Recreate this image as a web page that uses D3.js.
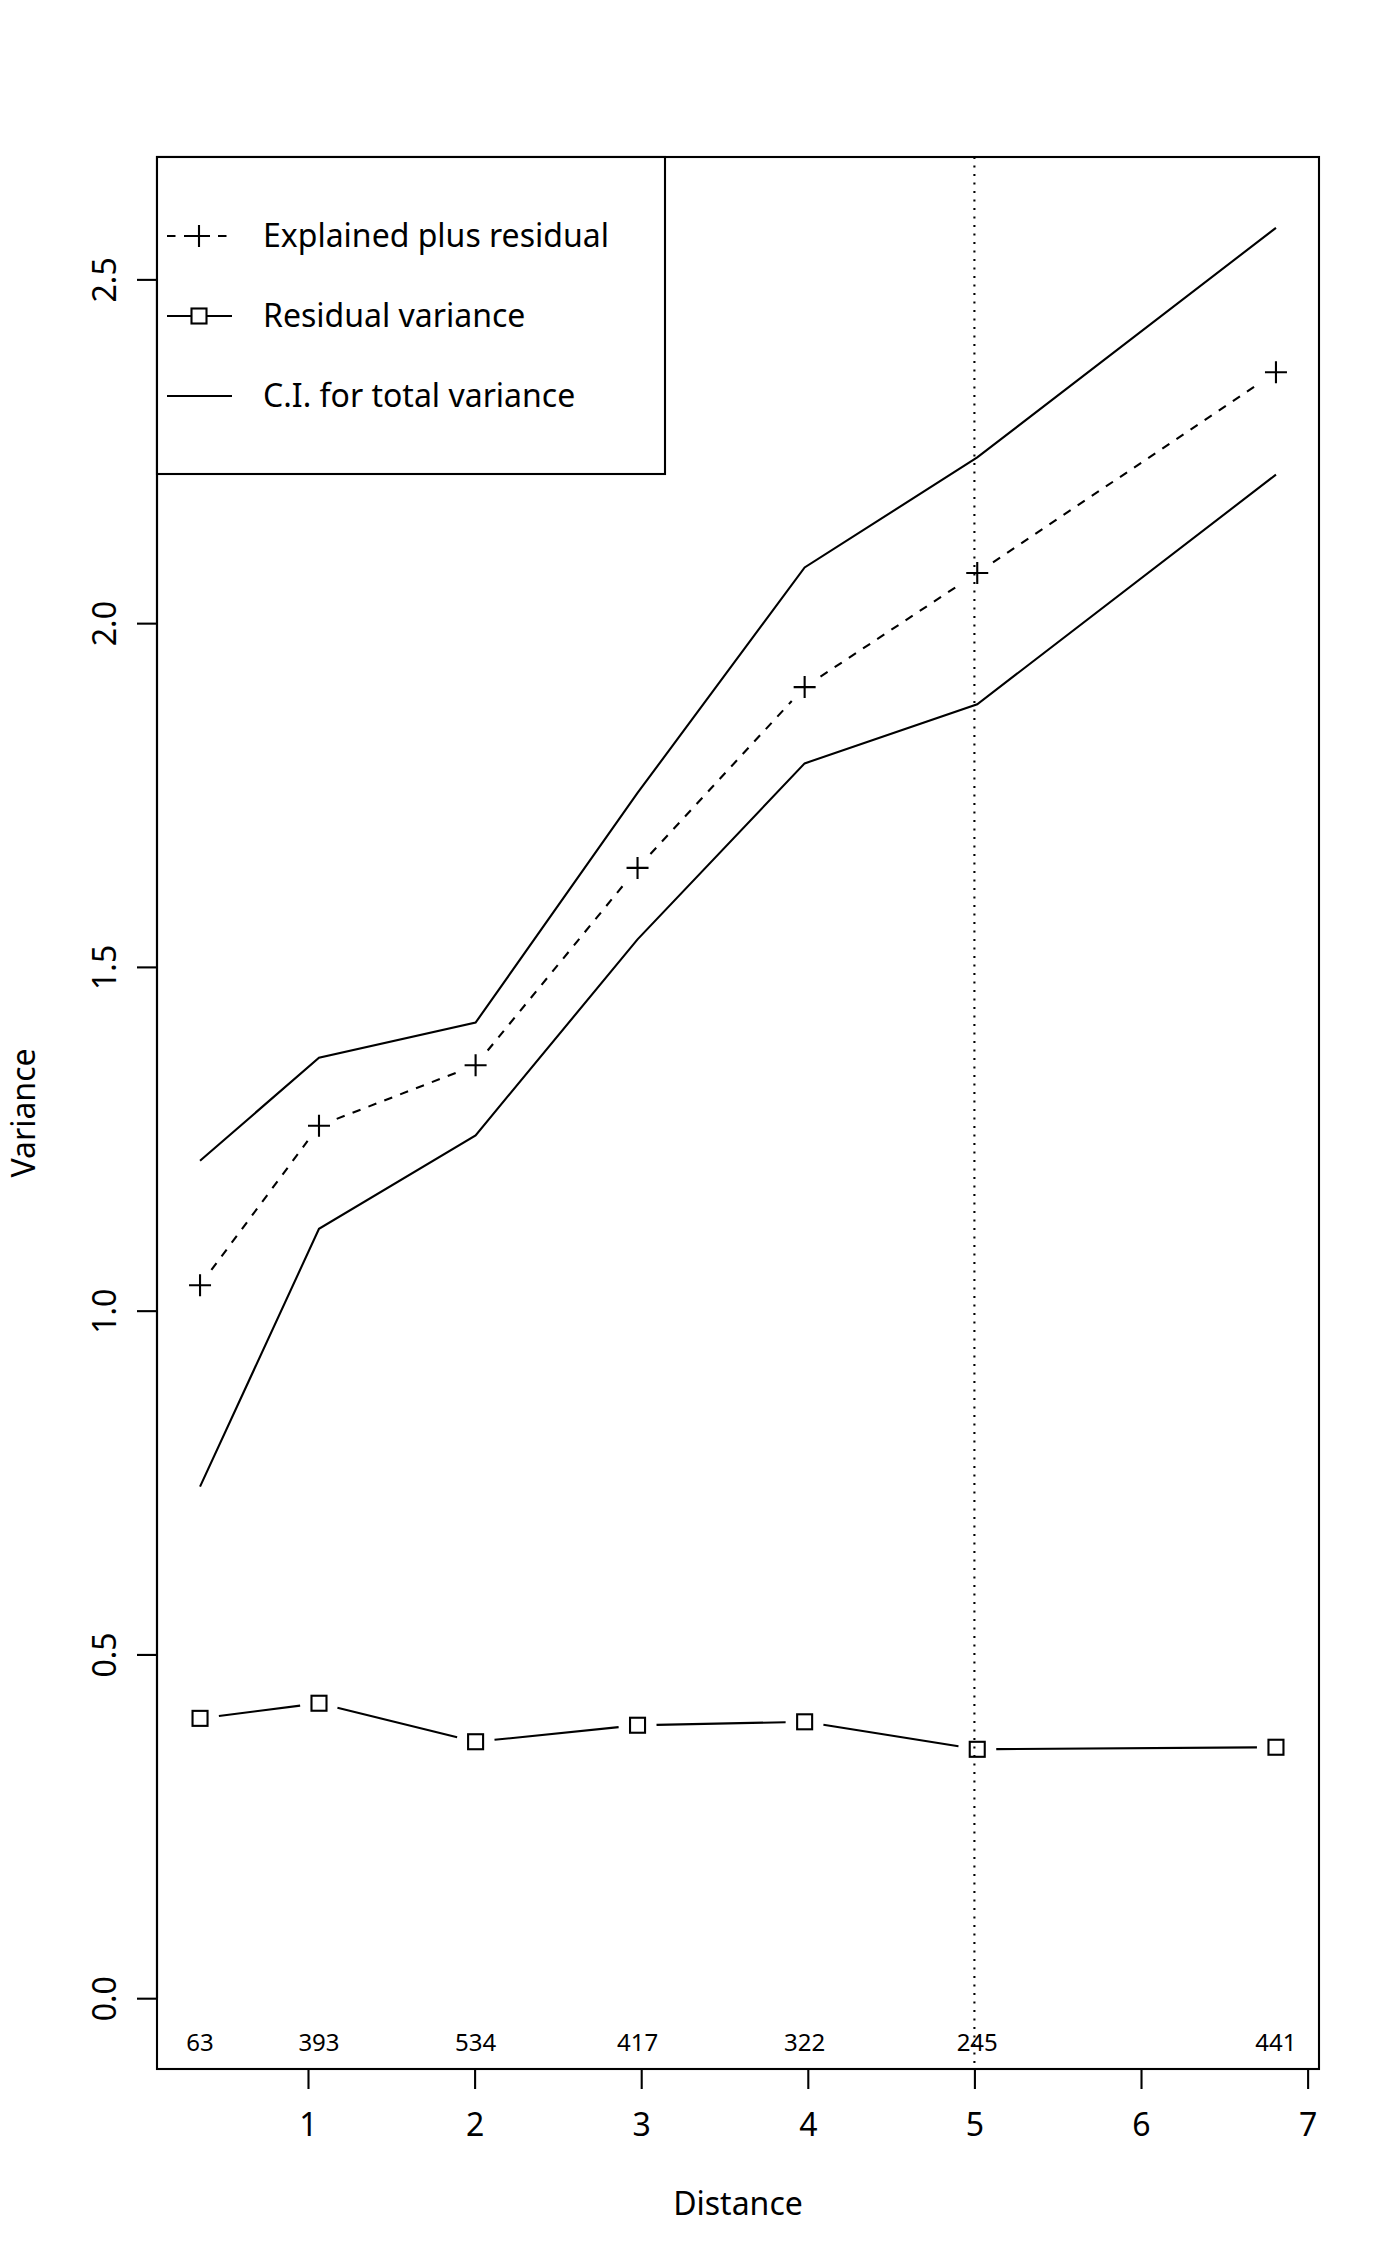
<!DOCTYPE html>
<html>
<head>
<meta charset="utf-8">
<script src="https://cdn.jsdelivr.net/npm/d3@7"></script>
<style>
  body { margin: 0; background: #fff; }
  text { font-family: "Noto Sans", "Open Sans", sans-serif; fill: #000; }
</style>
</head>
<body>
<div id="chart"></div>
<script>
// values
const distance  = [0.352, 1.066, 2.006, 2.978, 3.981, 5.017, 6.810];
const pairCount = [63, 393, 534, 417, 322, 245, 441];
const explainedPlusResidual = [1.037, 1.269, 1.357, 1.644, 1.907, 2.073, 2.365];
const residualVariance      = [0.407, 0.429, 0.373, 0.397, 0.402, 0.362, 0.365];
const ciUpper = [1.218, 1.368, 1.419, 1.753, 2.081, 2.241, 2.575];
const ciLower = [0.744, 1.119, 1.255, 1.540, 1.796, 1.882, 2.216];
const xTicks = [1, 2, 3, 4, 5, 6, 7];
const yTicks = [0.0, 0.5, 1.0, 1.5, 2.0, 2.5];
const cutoff = 5;
const legendLabels = ["Explained plus residual", "Residual variance", "C.I. for total variance"];

const W = 1400, H = 2266;
const margin = {left: 157, right: 81, top: 157, bottom: 197};
const lw = 2.1;
const dash = "8.5,8.5", dots = "2.1,6.4";
const fontSize = "32px";

const svg = d3.select("#chart").append("svg")
    .attr("width", W)
    .attr("height", H)
    .style("background", "#fff");

// R style 4% padding on both axes
const xExt = d3.extent(distance);
const xPad = (xExt[1] - xExt[0]) * 0.04;
const yMax = d3.max(ciUpper);
const yPad = yMax * 0.04;

const x = d3.scaleLinear()
    .domain([xExt[0] - xPad, xExt[1] + xPad])
    .range([margin.left, W - margin.right]);
const y = d3.scaleLinear()
    .domain([0 - yPad, yMax + yPad])
    .range([H - margin.bottom, margin.top]);

const line = d3.line().x(d => x(d[0])).y(d => y(d[1]));

// CI lines (plain lines)
[ciUpper, ciLower].forEach(vals => {
    svg.append("path")
        .datum(d3.zip(distance, vals))
        .attr("d", line)
        .attr("fill", "none")
        .attr("stroke", "#000")
        .attr("stroke-width", lw);
});

// type = "b": segments stop short of the points
function gappedSegments(vals, dasharray) {
    const gap = 19;
    const pts = distance.map((d, i) => [x(d), y(vals[i])]);
    const segs = d3.pairs(pts).map(([a, b]) => {
        const dx = b[0] - a[0], dy = b[1] - a[1];
        const len = Math.hypot(dx, dy);
        const ux = dx / len, uy = dy / len;
        return [a[0] + ux * gap, a[1] + uy * gap, b[0] - ux * gap, b[1] - uy * gap];
    });
    svg.append("g").selectAll("line")
        .data(segs)
        .enter().append("line")
        .attr("x1", d => d[0]).attr("y1", d => d[1])
        .attr("x2", d => d[2]).attr("y2", d => d[3])
        .attr("stroke", "#000")
        .attr("stroke-width", lw)
        .attr("stroke-dasharray", dasharray);
}

function plusPath(cx, cy) {
    const s = 11;
    return `M${cx - s},${cy}H${cx + s}M${cx},${cy - s}V${cy + s}`;
}

gappedSegments(explainedPlusResidual, dash);
gappedSegments(residualVariance, null);

svg.append("g").selectAll("path")
    .data(d3.zip(distance, explainedPlusResidual))
    .enter().append("path")
    .attr("d", d => plusPath(x(d[0]), y(d[1])))
    .attr("stroke", "#000")
    .attr("stroke-width", lw);

svg.append("g").selectAll("rect")
    .data(d3.zip(distance, residualVariance))
    .enter().append("rect")
    .attr("x", d => x(d[0]) - 7.5)
    .attr("y", d => y(d[1]) - 7.5)
    .attr("width", 15)
    .attr("height", 15)
    .attr("fill", "none")
    .attr("stroke", "#000")
    .attr("stroke-width", lw);

// dotted vertical line at the cutoff distance
svg.append("line")
    .attr("x1", x(cutoff)).attr("x2", x(cutoff))
    .attr("y1", margin.top).attr("y2", H - margin.bottom)
    .attr("stroke", "#000")
    .attr("stroke-width", lw)
    .attr("stroke-dasharray", dots);

// number of pairs along the bottom
svg.append("g").selectAll("text")
    .data(d3.zip(distance, pairCount))
    .enter().append("text")
    .attr("x", d => x(d[0]))
    .attr("y", 2051)
    .attr("text-anchor", "middle")
    .style("font-size", "24px")
    .text(d => d[1]);

// axes
const xAxis = svg.append("g")
    .attr("transform", `translate(0,${H - margin.bottom})`)
    .call(d3.axisBottom(x).tickValues(xTicks).tickSize(20).tickPadding(24).tickFormat(d3.format("d")));
xAxis.attr("font-family", null).attr("font-size", null);
xAxis.select(".domain").attr("d", `M${x(1)},0H${x(7)}`);
xAxis.selectAll("line, path").attr("stroke", "#000").attr("stroke-width", lw);
xAxis.selectAll("text").style("font-size", fontSize);

const yAxis = svg.append("g")
    .attr("transform", `translate(${margin.left},0)`)
    .call(d3.axisLeft(y).tickValues(yTicks).tickSize(20).tickFormat(d3.format(".1f")));
yAxis.attr("font-family", null).attr("font-size", null);
yAxis.select(".domain").attr("d", `M0,${y(0)}V${y(2.5)}`);
yAxis.selectAll("line, path").attr("stroke", "#000").attr("stroke-width", lw);
// tick groups are already placed at y(d); only shift left and rotate
yAxis.selectAll("text")
    .attr("x", 0).attr("y", 0).attr("dy", null)
    .attr("text-anchor", "middle")
    .attr("transform", `translate(${116 - margin.left},0) rotate(-90)`)
    .style("font-size", fontSize);

// plot box
svg.append("rect")
    .attr("x", margin.left)
    .attr("y", margin.top)
    .attr("width", W - margin.left - margin.right)
    .attr("height", H - margin.top - margin.bottom)
    .attr("fill", "none")
    .attr("stroke", "#000")
    .attr("stroke-width", lw);

// axis titles
svg.append("text")
    .attr("x", (margin.left + W - margin.right) / 2)
    .attr("y", 2215)
    .attr("text-anchor", "middle")
    .style("font-size", fontSize)
    .text("Distance");

svg.append("text")
    .attr("transform", `translate(35,${(margin.top + H - margin.bottom) / 2}) rotate(-90)`)
    .attr("text-anchor", "middle")
    .style("font-size", fontSize)
    .text("Variance");

// legend
const legend = svg.append("g");
legend.append("rect")
    .attr("x", margin.left)
    .attr("y", margin.top)
    .attr("width", 508)
    .attr("height", 317)
    .attr("fill", "#fff")
    .attr("stroke", "#000")
    .attr("stroke-width", lw);

const rowY = i => 236 + i * 80;
legendLabels.forEach((label, i) => {
    const cy = rowY(i);
    legend.append("line")
        .attr("x1", 167).attr("x2", 232)
        .attr("y1", cy).attr("y2", cy)
        .attr("stroke", "#000")
        .attr("stroke-width", lw)
        .attr("stroke-dasharray", i === 0 ? dash : null);
    if (i === 0) {
        legend.append("path")
            .attr("d", plusPath(199, cy))
            .attr("stroke", "#000")
            .attr("stroke-width", lw);
    } else if (i === 1) {
        legend.append("rect")
            .attr("x", 199 - 7.5).attr("y", cy - 7.5)
            .attr("width", 15).attr("height", 15)
            .attr("fill", "#fff")
            .attr("stroke", "#000")
            .attr("stroke-width", lw);
    }
    legend.append("text")
        .attr("x", 263)
        .attr("y", cy + 11)
        .style("font-size", fontSize)
        .text(label);
});
</script>
</body>
</html>
